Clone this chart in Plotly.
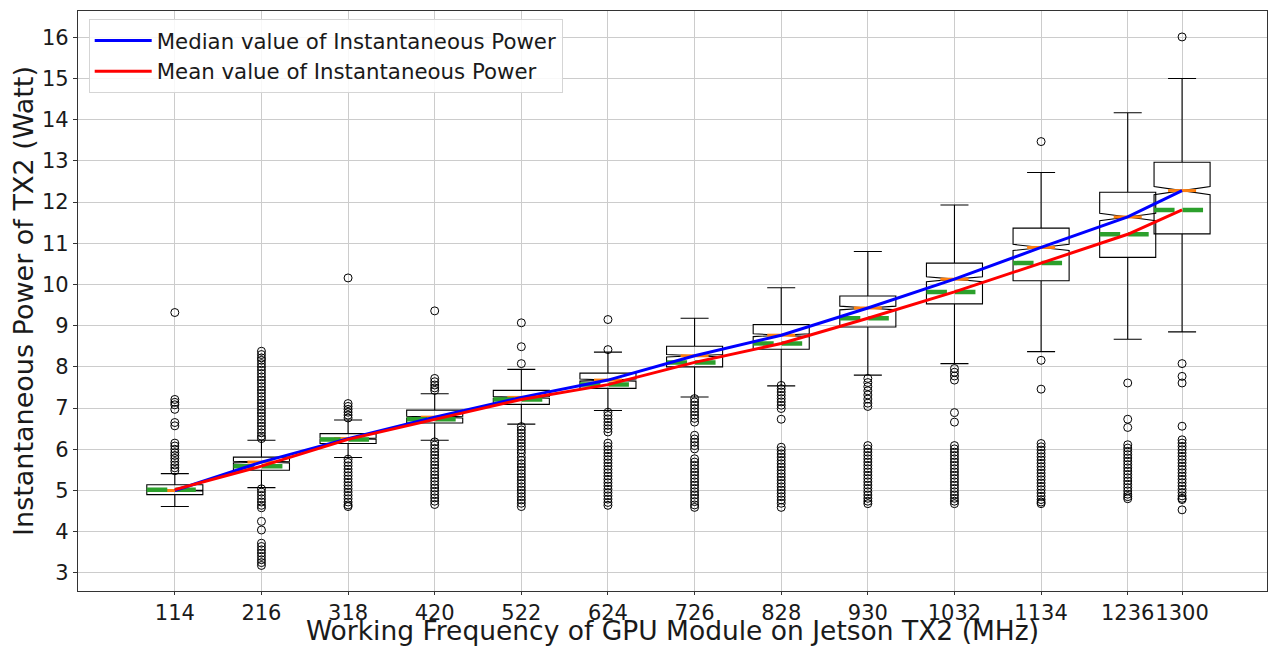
import plotly.graph_objects as go

# GPU frequencies (MHz) used as box positions
freqs = [114, 216, 318, 420, 522, 624, 726, 828, 930, 1032, 1134, 1236, 1300]
tick_labels = [str(f) for f in freqs]

# box statistics (Watt)
q1 = [4.90, 5.49, 6.14, 6.64, 7.09, 7.48, 8.00, 8.43, 8.97, 9.53, 10.09, 10.66, 11.23]
medians = [5.00, 5.69, 6.26, 6.78, 7.26, 7.68, 8.27, 8.77, 9.43, 10.13, 10.90, 11.64, 12.28]
q3 = [5.14, 5.81, 6.38, 6.95, 7.43, 7.85, 8.50, 9.03, 9.72, 10.52, 11.37, 12.24, 12.97]
lower_whisker = [4.61, 5.07, 5.80, 6.22, 6.61, 6.94, 7.27, 7.54, 7.80, 8.08, 8.37, 8.67, 8.85]
upper_whisker = [5.41, 6.22, 6.71, 7.35, 7.94, 8.36, 9.18, 9.92, 10.80, 11.93, 12.72, 14.17, 15.00]
means = [5.02, 5.59, 6.24, 6.73, 7.21, 7.57, 8.11, 8.57, 9.18, 9.82, 10.52, 11.22, 11.81]
notch_span = [0.01, 0.02, 0.015, 0.02, 0.02, 0.025, 0.03, 0.035, 0.045, 0.06, 0.075, 0.09, 0.10]

# outliers (fliers) per frequency
out_114 = [9.32, 7.21, 7.14, 7.08, 6.97, 6.65, 6.57, 6.15, 6.08, 6.00, 5.92, 5.85, 5.78,
           5.70, 5.62, 5.55, 5.48]
out_216 = [8.38, 8.30, 8.22, 8.16, 8.08, 8.00, 7.92, 7.84, 7.76, 7.68, 7.60, 7.52, 7.44,
           7.36, 7.28, 7.20, 7.12, 7.04, 6.96, 6.88, 6.80, 6.72, 6.64, 6.56, 6.48, 6.40,
           6.32, 6.26, 5.04, 4.96, 4.88, 4.80, 4.72, 4.64, 4.58, 4.25, 4.04, 3.72, 3.64,
           3.56, 3.48, 3.40, 3.32, 3.25, 3.18]
out_318 = [10.16, 7.11, 7.04, 6.97, 6.90, 6.83, 6.76, 5.76, 5.68, 5.60, 5.52, 5.44, 5.36,
           5.28, 5.20, 5.12, 5.04, 4.96, 4.88, 4.80, 4.72, 4.65, 4.61]
out_420 = [9.36, 7.72, 7.64, 7.56, 7.49, 7.43, 6.18, 6.10, 6.02, 5.94, 5.86, 5.78, 5.70,
           5.62, 5.54, 5.46, 5.38, 5.30, 5.22, 5.14, 5.06, 4.98, 4.90, 4.82, 4.74, 4.66]
out_522 = [9.07, 8.49, 8.08, 6.55, 6.47, 6.39, 6.31, 6.23, 6.15, 6.07, 5.99, 5.91, 5.81,
           5.73, 5.65, 5.57, 5.49, 5.41, 5.33, 5.25, 5.17, 5.09, 5.01, 4.93, 4.85, 4.77,
           4.69, 4.61]
out_624 = [9.15, 8.42, 6.90, 6.82, 6.74, 6.66, 6.58, 6.50, 6.42, 6.15, 6.07, 5.99, 5.91,
           5.83, 5.75, 5.67, 5.59, 5.51, 5.43, 5.35, 5.27, 5.19, 5.11, 5.03, 4.95, 4.87,
           4.79, 4.71, 4.64]
out_726 = [7.23, 7.15, 7.07, 6.99, 6.91, 6.83, 6.75, 6.66, 6.34, 6.25, 6.17, 6.09, 6.01,
           5.77, 5.69, 5.61, 5.53, 5.45, 5.37, 5.29, 5.21, 5.13, 5.05, 4.97, 4.89, 4.81,
           4.73, 4.65, 4.59]
out_828 = [7.55, 7.47, 7.39, 7.31, 7.23, 7.15, 7.07, 6.99, 6.73, 6.05, 5.97, 5.89, 5.81,
           5.73, 5.65, 5.57, 5.49, 5.41, 5.33, 5.25, 5.17, 5.09, 5.01, 4.93, 4.85, 4.77,
           4.69, 4.59]
out_930 = [7.72, 7.62, 7.52, 7.42, 7.32, 7.22, 7.12, 7.04, 6.09, 6.01, 5.93, 5.85, 5.77,
           5.69, 5.61, 5.53, 5.45, 5.37, 5.29, 5.21, 5.13, 5.05, 4.97, 4.89, 4.81, 4.74,
           4.68]
out_1032 = [7.96, 7.87, 7.78, 7.68, 6.89, 6.66, 6.09, 6.01, 5.93, 5.85, 5.77, 5.69, 5.61,
            5.53, 5.45, 5.37, 5.29, 5.21, 5.13, 5.05, 4.97, 4.89, 4.81, 4.74, 4.68]
out_1134 = [13.47, 8.16, 7.46, 6.14, 6.06, 5.98, 5.90, 5.82, 5.74, 5.66, 5.58, 5.50, 5.42,
            5.34, 5.26, 5.18, 5.10, 5.02, 4.94, 4.86, 4.78, 4.72, 4.68]
out_1236 = [7.61, 6.73, 6.53, 6.11, 6.03, 5.95, 5.87, 5.79, 5.71, 5.63, 5.55, 5.47, 5.39,
            5.31, 5.23, 5.15, 5.07, 4.99, 4.91, 4.85, 4.80]
out_1300 = [16.01, 8.08, 7.77, 7.61, 6.56, 6.23, 6.15, 6.07, 5.99, 5.91, 5.83, 5.75, 5.67,
            5.59, 5.51, 5.43, 5.35, 5.27, 5.19, 5.11, 5.03, 4.95, 4.87, 4.81, 4.78, 4.53]

outliers = [out_114, out_216, out_318, out_420, out_522, out_624, out_726, out_828,
            out_930, out_1032, out_1134, out_1236, out_1300]

BOX_W = 66  # box width in MHz
FONT = "DejaVu Sans"

fig = go.Figure()

fig.add_trace(go.Box(
    x=freqs, q1=q1, median=medians, q3=q3,
    lowerfence=lower_whisker, upperfence=upper_whisker,
    notchspan=notch_span, notched=True, notchwidth=0.5,
    width=BOX_W, whiskerwidth=0.5, boxpoints=False,
    line=dict(color="black", width=1.1),
    fillcolor="rgba(0,0,0,0)",
    showlegend=False, hoverinfo="skip",
))

# fliers
fx, fy = [], []
for f, vals in zip(freqs, outliers):
    fx += [f] * len(vals)
    fy += vals
fig.add_trace(go.Scatter(
    x=fx, y=fy, mode="markers",
    marker=dict(symbol="circle-open", size=8, color="black", line=dict(width=1)),
    showlegend=False, hoverinfo="skip",
))

# orange median marks (width of the notch) and green dashed means
mx, my, ax_, ay = [], [], [], []
for f, m, a in zip(freqs, medians, means):
    mx += [f - BOX_W / 4, f + BOX_W / 4, None]
    my += [m, m, None]
    ax_ += [f - BOX_W / 2, f + BOX_W / 2, None]
    ay += [a, a, None]
fig.add_trace(go.Scatter(
    x=mx, y=my, mode="lines", line=dict(color="#ff7f0e", width=3),
    showlegend=False, hoverinfo="skip",
))
fig.add_trace(go.Scatter(
    x=ax_, y=ay, mode="lines",
    line=dict(color="#2ca02c", width=4.5, dash="20.5px,8px"),
    showlegend=False, hoverinfo="skip",
))

fig.add_trace(go.Scatter(
    x=freqs, y=medians, mode="lines", name="Median value of Instantaneous Power",
    line=dict(color="blue", width=3),
))
fig.add_trace(go.Scatter(
    x=freqs, y=means, mode="lines", name="Mean value of Instantaneous Power",
    line=dict(color="red", width=3),
))

axis_common = dict(
    showgrid=True, gridcolor="#cccccc", gridwidth=1,
    showline=True, linecolor="#333333", linewidth=1.2, mirror=True,
    ticks="outside", ticklen=4, tickcolor="#333333",
    tickfont=dict(family=FONT, size=21, color="#1a1a1a"),
    zeroline=False, automargin=False,
)

# page body has an 8px margin, so the figure is sized to fit inside it
fig.update_layout(
    width=1260, height=638,
    margin=dict(l=70, r=1, t=3, b=55),
    plot_bgcolor="white", paper_bgcolor="white",
    font=dict(family=FONT, color="#1a1a1a"),
    xaxis=dict(
        axis_common, range=[0, 1400], ticklen=3,
        tickmode="array", tickvals=freqs, ticktext=tick_labels, tickangle=0,
        title=dict(text="Working Frequency of GPU Module on Jetson TX2 (MHz)",
                   font=dict(family=FONT, size=26.5), standoff=5),
    ),
    yaxis=dict(
        axis_common, range=[2.56, 16.64], dtick=1, tick0=0,
        title=dict(text="Instantaneous Power of TX2 (Watt)",
                   font=dict(family=FONT, size=27), standoff=4),
    ),
    legend=dict(
        x=0.009, y=0.986, xanchor="left", yanchor="top",
        bgcolor="rgba(255,255,255,0.85)", bordercolor="#d5d5d5", borderwidth=1,
        font=dict(family=FONT, size=21.3, color="#1a1a1a"),
        itemwidth=57,
    ),
)

fig.write_html("out.html")
